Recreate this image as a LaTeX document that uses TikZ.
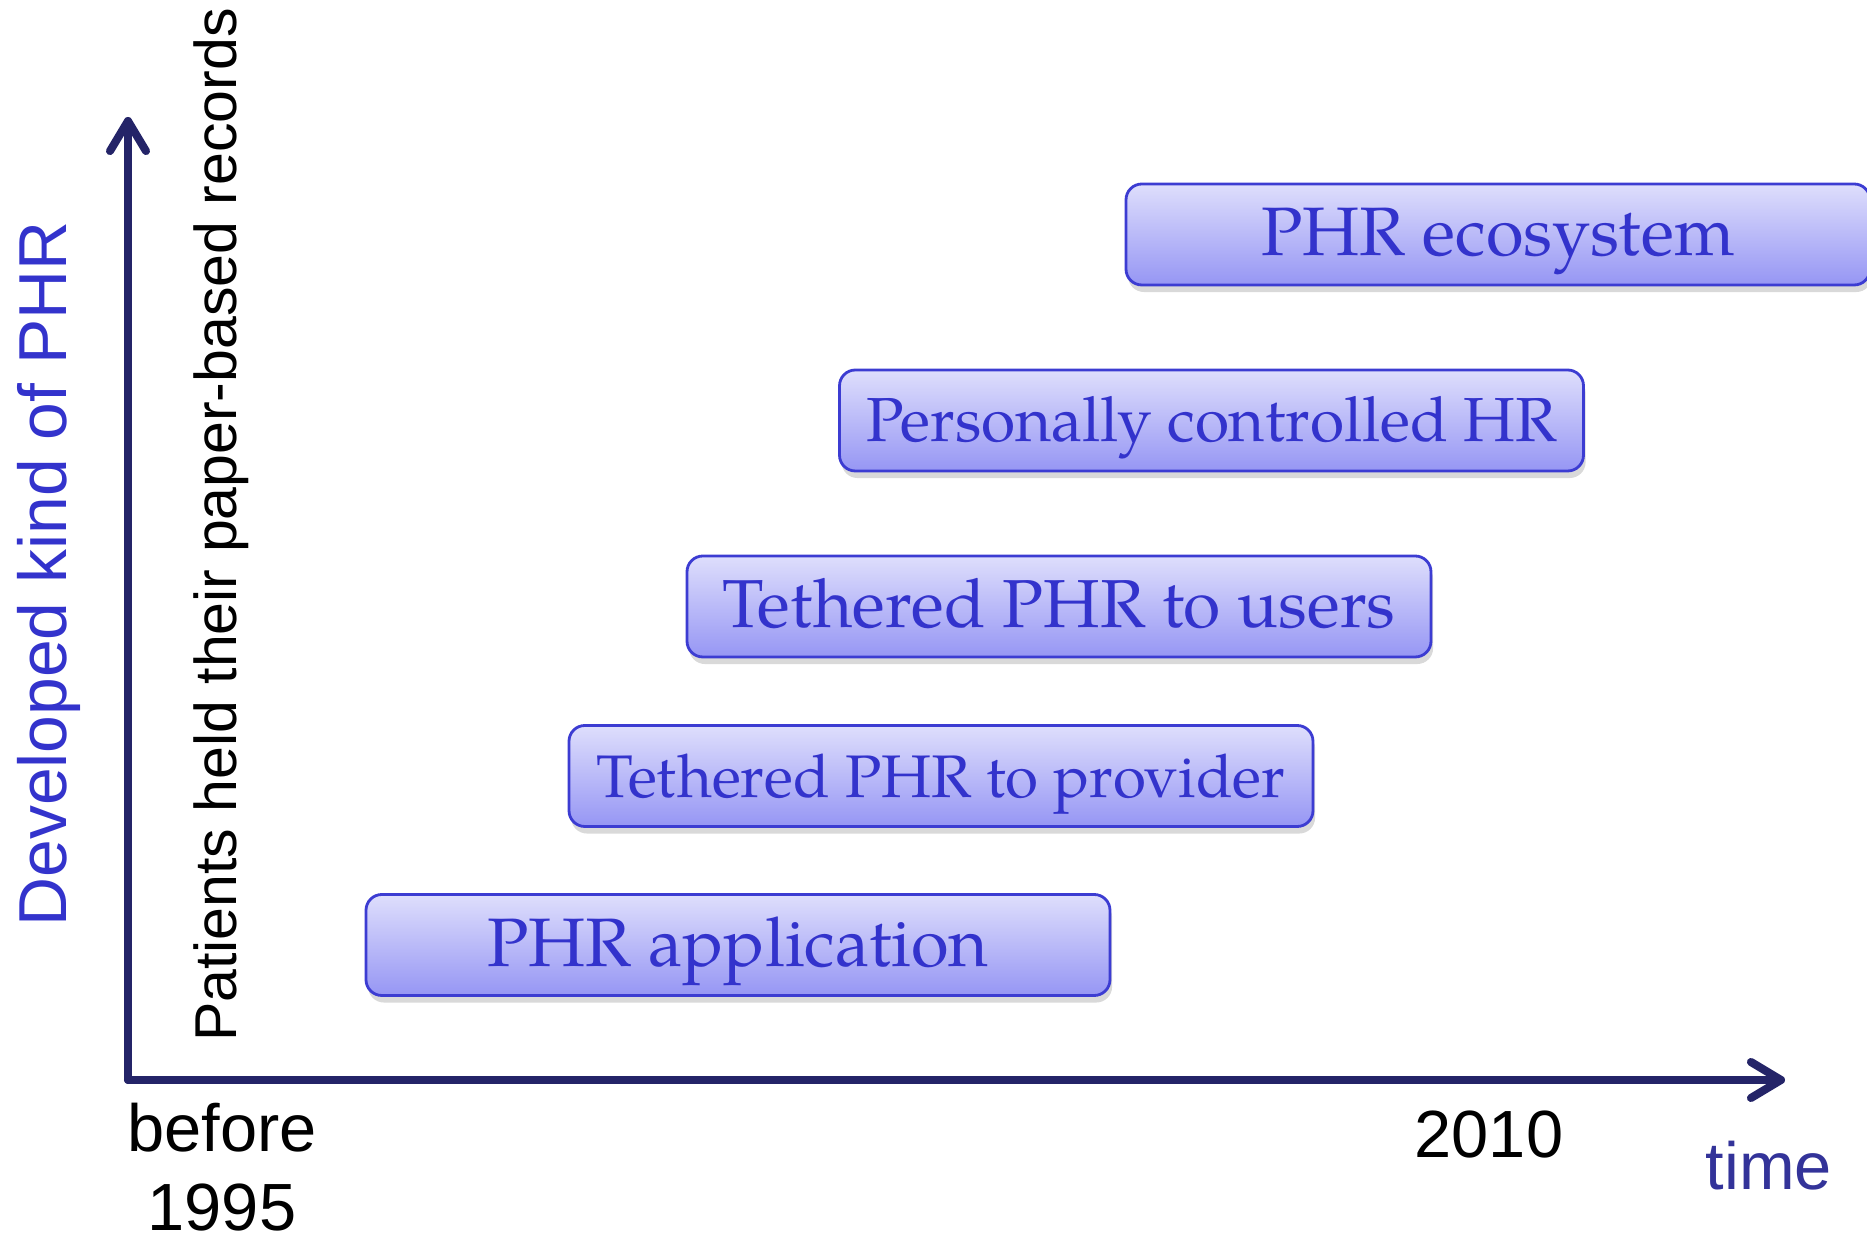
\documentclass[tikz,border=0pt]{standalone}
\usepackage{fontspec}
\setsansfont{Liberation Sans}
\newfontfamily\boxfont{TeX Gyre Pagella}
\usetikzlibrary{arrows.meta, shadows}
\definecolor{axisnavy}{RGB}{36,36,104}
\definecolor{phrblue}{RGB}{51,51,204}
\definecolor{timeblue}{RGB}{51,51,153}
\definecolor{boxtop}{RGB}{222,222,252}
\definecolor{boxbottom}{RGB}{150,150,244}
\definecolor{boxline}{RGB}{60,60,210}

\begin{document}
\begin{tikzpicture}[>={Straight Barb[length=3mm, width=3.6mm, round]},
    axis/.style={draw=axisnavy, line width=2.3pt, line cap=round},
    phrbox/.style={rectangle, rounded corners=4.5pt, draw=boxline, line width=0.8pt,
        top color=boxtop, bottom color=boxbottom, text=phrblue,
        text height=12.2pt, text depth=0pt,
        minimum width=7.44cm, minimum height=1.01cm,
        drop shadow={shadow xshift=0.6pt, shadow yshift=-2pt, opacity=0.25, fill=black!60}},
    label/.style={font=\sffamily\fontsize{19}{23}\selectfont, inner sep=0pt}]
    \useasboundingbox (0, 0) rectangle (18.67, 12.41);

    % Define axes
    \coordinate (origin) at (1.28, 1.61);
    \coordinate (ytop) at (1.28, 11.24);
    \coordinate (xend) at (17.85, 1.61);

    % Define boxes
    \node[phrbox, font=\boxfont\fontsize{19.5}{23}\selectfont] (app) at (7.38, 2.96) {PHR application};
    \node[phrbox, font=\boxfont\fontsize{17.1}{21}\selectfont] (provider) at (9.41, 4.65) {Tethered PHR to provider};
    \node[phrbox, font=\boxfont\fontsize{19.3}{23}\selectfont] (users) at (10.59, 6.345) {Tethered PHR to users};
    \node[phrbox, font=\boxfont\fontsize{17.7}{21}\selectfont] (pchr) at (12.115, 8.205) {Personally controlled HR};
    \node[phrbox, font=\boxfont\fontsize{19.5}{23}\selectfont] (eco) at (14.98, 10.065) {PHR ecosystem};

    % Draw axes
    \draw[axis, ->] (origin) -- (ytop);
    \draw[axis, ->] (origin) -- (xend);

    % Labels
    \node[label, font=\sffamily\fontsize{19.3}{23}\selectfont, text=phrblue, rotate=90] (kind) at (0.49, 6.67) {Developed kind of PHR};
    \node[label, font=\sffamily\fontsize{16.8}{20}\selectfont, rotate=90] (paper) at (2.21, 7.16) {Patients held their paper-based records};
    \node[label, align=center, font=\sffamily\fontsize{19}{22.5}\selectfont, anchor=base] (before) at (2.22, 0.1) {before\\1995};
    \node[label, anchor=base] (end) at (14.89, 0.83) {2010};
    \node[label, text=timeblue, anchor=base] (time) at (17.69, 0.51) {time};
\end{tikzpicture}
\end{document}
